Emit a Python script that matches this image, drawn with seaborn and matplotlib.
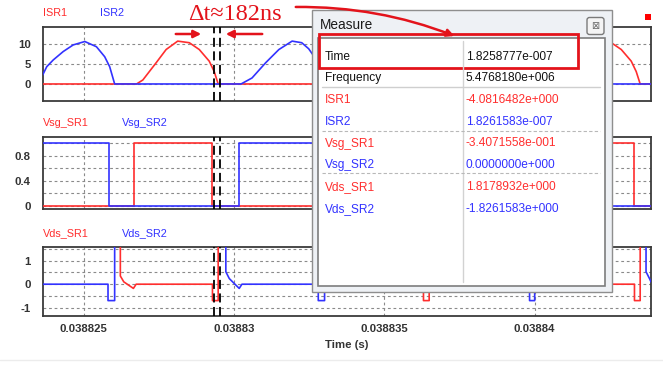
import matplotlib
matplotlib.use("Agg")
import matplotlib.pyplot as plt
import seaborn as sns
from matplotlib.patches import Rectangle, FancyArrowPatch, FancyBboxPatch

# ---------------- data (time in microseconds after 0.03882 s) ----------------
tick_pos = [5, 10, 15, 20]
tick_labels = ["0.038825", "0.03883", "0.038835", "0.03884"]
t_range = [3.632, 23.87]
cursor_t = [9.34, 9.5226]

t_isr1 = [3.632, 6.755, 6.964, 7.407, 7.738, 8.123, 8.51, 8.841, 9.172, 9.338, 9.47,
          13.775, 13.984, 14.427, 14.758, 15.143, 15.53, 15.861, 16.192, 16.358, 16.49,
          20.795, 21.004, 21.447, 21.778, 22.163, 22.55, 22.881, 23.212, 23.378, 23.51, 23.87]
isr1 = [0, 0, 1.0, 5.3, 8.6, 10.7, 10.3, 8.6, 5.7, 3.1, 0,
        0, 1.0, 5.3, 8.6, 10.7, 10.3, 8.6, 5.7, 3.1, 0,
        0, 1.0, 5.3, 8.6, 10.7, 10.3, 8.6, 5.7, 3.1, 0, 0]

t_isr2 = [3.632, 3.765, 3.983, 4.315, 4.646, 5.033, 5.42, 5.695, 5.861, 6.026,
          10.232, 10.596, 11.05, 11.49, 11.93, 12.25, 12.48, 12.78, 12.93, 13.01,
          17.222, 17.586, 18.04, 18.48, 18.92, 19.24, 19.47, 19.77, 19.92, 20.0, 23.87]
isr2 = [2.25, 4.3, 6.0, 8.1, 9.75, 10.6, 9.3, 6.8, 4.3, 0,
        0, 1.5, 5.3, 8.6, 10.7, 10.3, 8.8, 5.6, 3.0, 0,
        0, 1.5, 5.3, 8.6, 10.7, 10.3, 8.8, 5.6, 3.0, 0, 0]

t_vsg1 = [3.632, 6.665, 6.665, 9.28, 9.28, 13.685, 13.685, 16.30, 16.30,
          20.705, 20.705, 23.32, 23.32, 23.87]
vsg1 = [0, 0, 1, 1, 0, 0, 1, 1, 0, 0, 1, 1, 0, 0]

t_vsg2 = [3.632, 5.838, 5.838, 10.166, 10.166, 12.82, 12.82, 17.18, 17.18,
          19.81, 19.81, 23.87]
vsg2 = [1, 1, 0, 0, 1, 1, 0, 0, 1, 1, 0, 0]

t_vds1 = [3.632, 6.215, 6.215, 6.33, 6.65, 6.74, 9.28, 9.28, 9.47, 9.47,
          13.235, 13.235, 13.35, 13.67, 13.76, 16.30, 16.30, 16.49, 16.49,
          20.255, 20.255, 20.37, 20.69, 20.78, 23.32, 23.32, 23.51, 23.51, 23.87]
vds1 = [3, 3, 0.35, 0.1, -0.18, 0, 0, -0.7, -0.7, 3,
        3, 0.35, 0.1, -0.18, 0, 0, -0.7, -0.7, 3,
        3, 0.35, 0.1, -0.18, 0, 0, -0.7, -0.7, 3, 3]

t_vds2 = [3.632, 5.805, 5.805, 6.026, 6.026, 9.725, 9.725, 9.84, 10.17, 10.26,
          12.80, 12.80, 13.01, 13.01, 16.715, 16.715, 16.83, 17.16, 17.25,
          19.83, 19.83, 20.0, 20.0, 23.705, 23.705, 23.82, 23.87]
vds2 = [0, 0, -0.7, -0.7, 3, 3, 0.53, 0.24, -0.18, 0,
        0, -0.7, -0.7, 3, 3, 0.53, 0.24, -0.18, 0,
        0, -0.7, -0.7, 3, 3, 0.53, 0.24, 0.1]

measure_names = ["Time", "Frequency", "ISR1", "ISR2", "Vsg_SR1", "Vsg_SR2", "Vds_SR1", "Vds_SR2"]
measure_values = ["1.8258777e-007", "5.4768180e+006", "-4.0816482e+000", "1.8261583e-007",
                  "-3.4071558e-001", "0.0000000e+000", "1.8178932e+000", "-1.8261583e+000"]

# ---------------- style ----------------
sns.set_theme(style="white")
plt.rcParams["font.family"] = ["Liberation Sans", "DejaVu Sans"]

RED = "#ff2e2e"
BLUE = "#3232ff"
ANN = "#e3131b"
W, H = 663, 368

fig = plt.figure(figsize=(W / 100, H / 100), dpi=100)
fig.patch.set_facecolor("white")


def pax(l, t, r, b):
    return fig.add_axes([l / W, 1 - b / H, (r - l) / W, (b - t) / H])


panels = [
    dict(box=(42.7, 26.7, 651, 101), ylim=(-4.25, 14.3), major=[0, 5, 10], mlab=["0", "5", "10"], minor=[],
         series=[(t_isr1, isr1, RED), (t_isr2, isr2, BLUE)], names=("ISR1", "ISR2"), ny=13.3, n2x=100),
    dict(box=(42.7, 136.7, 651, 208.5), ylim=(-0.04, 1.10), major=[0, 0.4, 0.8], mlab=["0", "0.4", "0.8"],
         minor=[0.2, 0.6, 1.0],
         series=[(t_vsg1, vsg1, RED), (t_vsg2, vsg2, BLUE)], names=("Vsg_SR1", "Vsg_SR2"), ny=123.3, n2x=121.7),
    dict(box=(42.7, 246.7, 651, 316.3), ylim=(-1.37, 1.6), major=[-1, 0, 1], mlab=["-1", "0", "1"],
         minor=[-0.5, 0.5, 1.5],
         series=[(t_vds1, vds1, RED), (t_vds2, vds2, BLUE)], names=("Vds_SR1", "Vds_SR2"), ny=233, n2x=121.7),
]

grid_kw = dict(color="#8a8a8a", lw=0.8, linestyle=(0, (2.5, 2.5)))
axes = []
for i, p in enumerate(panels):
    ax = pax(*p["box"])
    axes.append(ax)
    for tt, vv, col in p["series"]:
        sns.lineplot(x=tt, y=vv, ax=ax, color=col, lw=1.2, estimator=None, sort=False, zorder=3)
    ax.set_xlim(*t_range)
    ax.set_ylim(*p["ylim"])
    ax.set_yticks(p["major"])
    ax.set_yticklabels(p["mlab"])
    ax.set_yticks(p["minor"], minor=True)
    ax.set_xticks(tick_pos)
    if i == 2:
        ax.set_xticklabels(tick_labels)
    else:
        ax.set_xticklabels([])
    ax.grid(True, which="both", **grid_kw)
    ax.set_axisbelow(True)
    ax.tick_params(axis="both", which="both", length=0, labelsize=8.2, colors="#333333")
    ax.tick_params(axis="y", pad=8.5)
    ax.tick_params(axis="x", pad=5.2)
    for lab in ax.get_xticklabels() + ax.get_yticklabels():
        lab.set_fontweight("bold")
    ax.set_xlabel("")
    ax.set_ylabel("")
    for s in ax.spines.values():
        s.set_color("#3a3a3a")
        s.set_linewidth(1.3)
    for ct in cursor_t:
        ax.axvline(ct, color="black", lw=1.3, linestyle=(0, (5, 2.5)), zorder=4)
    ax.set_facecolor("white")

# ---------------- overlay in pixel coordinates ----------------
ov = fig.add_axes([0, 0, 1, 1], zorder=10)
ov.set_xlim(0, W)
ov.set_ylim(H, 0)
ov.axis("off")

for p in panels:
    ov.text(42.7, p["ny"], p["names"][0], color=RED, fontsize=7.8, va="center", ha="left")
    ov.text(p["n2x"], p["ny"], p["names"][1], color=BLUE, fontsize=7.8, va="center", ha="left")

ov.text(347, 345, "Time (s)", fontsize=8.2, fontweight="bold", color="#333333", ha="center", va="center")
ov.plot([0, W], [360, 360], color="#ececec", lw=1)

# dialog
ov.add_patch(Rectangle((312, 10), 300, 282, fc="#eef1f5", ec="#8e8e8e", lw=1))
ov.text(320, 25, "Measure", fontsize=9.8, color="#1a1a1a", va="center", ha="left")
ov.add_patch(FancyBboxPatch((587, 17.5), 17, 17, boxstyle="round,pad=0,rounding_size=2.5",
                            fc="#f4f4f4", ec="#7a7a7a", lw=1))
ov.text(595.5, 26, "⊠", fontsize=7, color="#666666", ha="center", va="center", family="DejaVu Sans")
ov.add_patch(Rectangle((318, 38.3), 287, 248, fc="white", ec="#7d7d7d", lw=1.2))
ov.plot([463, 463], [41, 282], color="#d2d2d2", lw=1)
ov.plot([322, 600], [86.5, 86.5], color="#cfcfcf", lw=1)
for yy in [130.5, 173]:
    ov.plot([322, 600], [yy, yy], color="#b8b8b8", lw=0.8, linestyle=(0, (3, 2)))

row_colors = ["#111111", "#111111", RED, BLUE, RED, BLUE, RED, BLUE]
for k, (nm, val) in enumerate(zip(measure_names, measure_values)):
    yy = 56.7 + k * 21.7
    ov.text(325, yy, nm, fontsize=8.6, color=row_colors[k], va="center", ha="left")
    ov.text(466, yy, val, fontsize=8.6, color=row_colors[k], va="center", ha="left")

ov.add_patch(Rectangle((319.3, 34.3), 258.4, 34, fill=False, ec=ANN, lw=2))

# annotations
ov.text(235, 14, "Δt≈182ns", fontsize=17.5, color=ANN, ha="center", va="center",
        family=["Liberation Serif", "DejaVu Serif"])
ov.add_patch(FancyArrowPatch((173, 34), (204, 34), arrowstyle="-|>", mutation_scale=11, color=ANN, lw=1.8))
ov.add_patch(FancyArrowPatch((265, 34), (223, 34), arrowstyle="-|>", mutation_scale=11, color=ANN, lw=1.8))
ov.add_patch(FancyArrowPatch((293, 7), (457, 37), arrowstyle="-|>", mutation_scale=11, color=ANN, lw=1.8,
                             connectionstyle="arc3,rad=-0.1"))
ov.add_patch(Rectangle((645, 13.5), 6, 6, fc="#ff0000", ec="none"))

fig.savefig("out.png", dpi=100, facecolor="white")
